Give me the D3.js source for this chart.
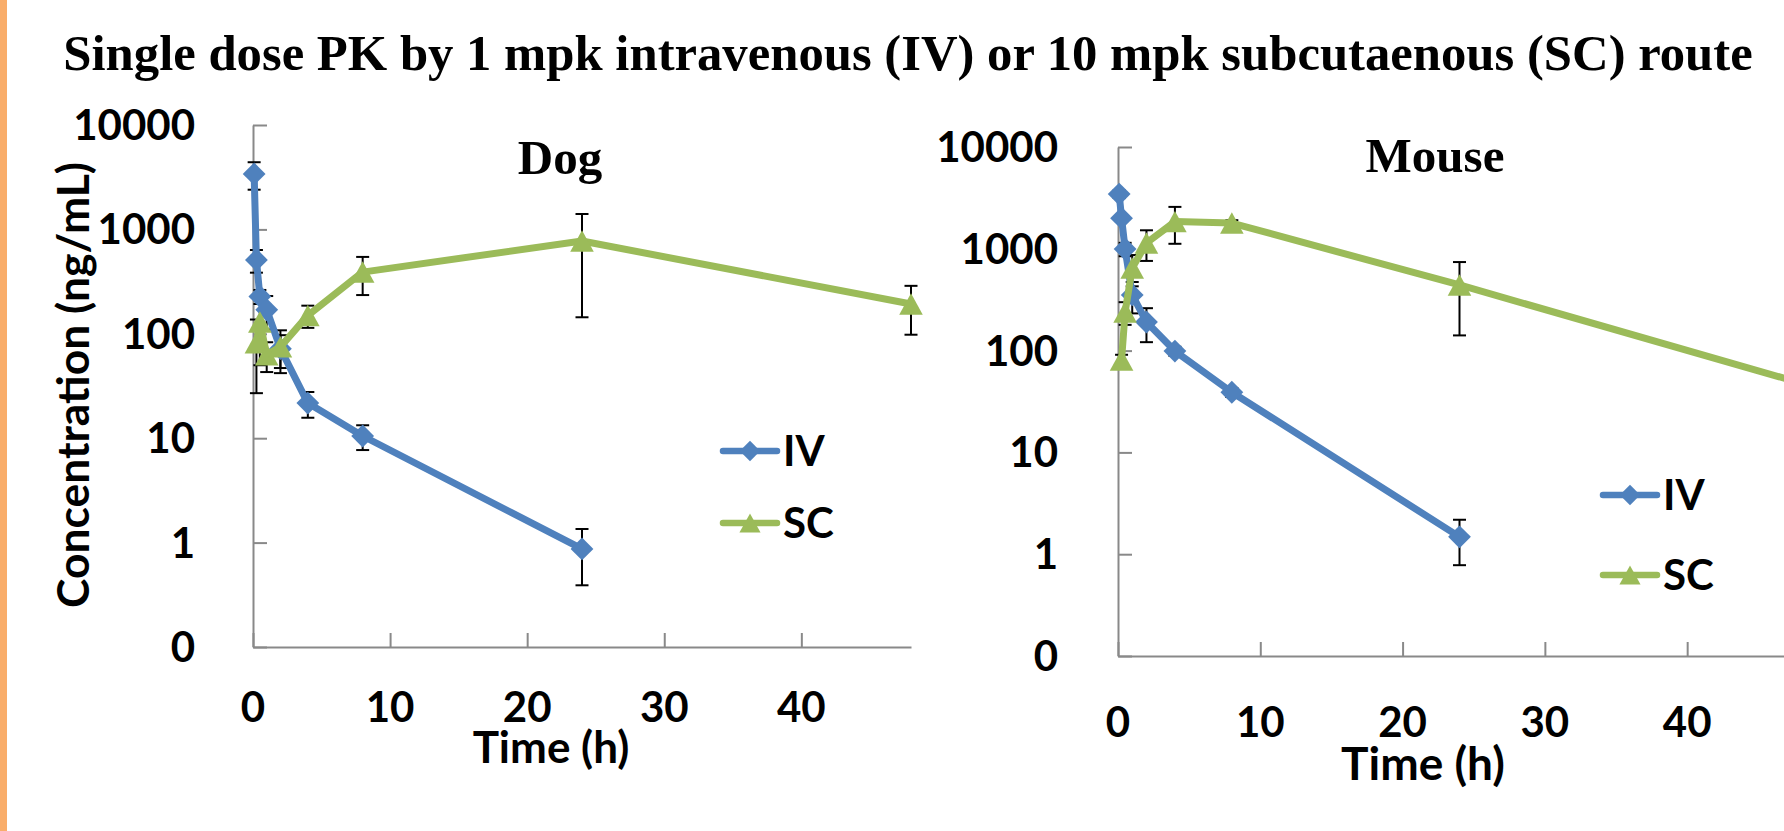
<!DOCTYPE html>
<html>
<head>
<meta charset="utf-8">
<script src="https://cdnjs.cloudflare.com/ajax/libs/d3/7.8.5/d3.min.js"></script>
<style>
  body { margin: 0; background: #fff; overflow: hidden; }
  text { font-family: Lato, "Noto Sans", sans-serif; font-weight: bold; fill: #000; }
  text.serif { font-family: "Liberation Serif", "Times New Roman", serif; }
</style>
</head>
<body>
<script>
// dog, 1 mpk IV / 10 mpk SC (mean, sd)
const dogIvTime = [0.083, 0.25, 0.5, 1, 2, 4, 8, 24]
const dogIvConc = [3400, 510, 228, 170, 72, 21.7, 10.5, 0.87]
const dogIvSd = [1000, 125, 35, 60, 25, 6, 2.8, 0.48]
const dogScTime = [0.25, 0.5, 1, 2, 4, 8, 24, 48]
const dogScConc = [82, 130, 63, 75, 150, 390, 774, 193]
const dogScSd = [55, 80, 20, 33, 36, 155, 630, 95]

// mouse
const mouseIvTime = [0.083, 0.25, 0.5, 1, 2, 4, 8, 24]
const mouseIvConc = [3450, 2000, 995, 352, 191, 99, 39, 1.48]
const mouseIvSd = [300, 150, 150, 120, 70, 10, 4, 0.7]
const mouseScTime = [0.25, 0.5, 1, 2, 4, 8, 24, 48]
const mouseScConc = [81, 239, 648, 1140, 1850, 1790, 441, 48]
const mouseScSd = [10, 60, 220, 380, 730, 120, 300, 20]

const yTicks = [0.1, 1, 10, 100, 1000, 10000]
const xTicks = [0, 10, 20, 30, 40]
const seriesNames = ['IV', 'SC']

const width = 1784
const height = 831
const ivColor = '#4F81BD'
const scColor = '#9BBB59'
const axisColor = '#898989'

let svg = d3
  .select('body')
  .append('svg')
  .attr('width', width)
  .attr('height', height)

// orange strip on the left edge
svg
  .append('rect')
  .attr('x', 0)
  .attr('y', 0)
  .attr('width', 7)
  .attr('height', height)
  .style('fill', '#F9AD6A')

svg
  .append('text')
  .attr('class', 'serif')
  .attr('x', 908)
  .attr('y', 70)
  .attr('text-anchor', 'middle')
  .style('font-size', '50.7px')
  .text('Single dose PK by 1 mpk intravenous (IV) or 10 mpk subcutaenous (SC) route')

const zip = (t, c, s) => t.map((d, i) => ({ t: d, c: c[i], sd: s[i] }))

// excel-like markers: square diamond and a triangle about as tall as wide
const diamondType = {
  draw(ctx, size) {
    let r = Math.sqrt(size) / 2
    ctx.moveTo(0, -r)
    ctx.lineTo(r, 0)
    ctx.lineTo(0, r)
    ctx.lineTo(-r, 0)
    ctx.closePath()
  }
}
const triangleType = {
  draw(ctx, size) {
    let r = Math.sqrt(size) / 2
    ctx.moveTo(0, -r)
    ctx.lineTo(r * 1.1, r)
    ctx.lineTo(-r * 1.1, r)
    ctx.closePath()
  }
}
const diamond = d3.symbol().type(diamondType)
const triangle = d3.symbol().type(triangleType)

function drawPanel(p) {
  let x = d3.scaleLinear().domain([0, 48]).range([p.left, p.right])
  let y = d3.scaleLog().domain([0.1, 10000]).range([p.bottom, p.top])
  let g = svg.append('g')

  let yAxis = d3.axisRight(y).tickValues(yTicks).tickSize(14).tickSizeOuter(0).tickFormat('')
  let xAxis = d3.axisBottom(x).tickValues(xTicks).tickSize(-14).tickSizeOuter(0).tickFormat('')

  g.append('g')
    .attr('transform', `translate(${p.left},0)`)
    .call(yAxis)
  g.append('g')
    .attr('transform', `translate(0,${p.bottom})`)
    .call(xAxis)
  g.selectAll('.domain, .tick line')
    .style('stroke', axisColor)
    .style('stroke-width', 2)

  g.selectAll('.ylab')
    .data(yTicks)
    .enter()
    .append('text')
    .attr('class', 'ylab')
    .attr('x', p.labelRight)
    .attr('y', d => y(d) + 15)
    .attr('text-anchor', 'end')
    .style('font-size', '42px')
    .text(d => d < 1 ? '0' : d3.format('d')(d))

  g.selectAll('.xlab')
    .data(xTicks)
    .enter()
    .append('text')
    .attr('class', 'xlab')
    .attr('x', d => x(d))
    .attr('y', p.xLabelY)
    .attr('text-anchor', 'middle')
    .style('font-size', '42px')
    .text(d => d)

  g.append('text')
    .attr('x', p.timeX)
    .attr('y', p.timeY)
    .attr('text-anchor', 'middle')
    .style('font-size', p.timeSize)
    .text('Time (h)')

  g.append('text')
    .attr('class', 'serif')
    .attr('x', p.titleX)
    .attr('y', p.titleY)
    .attr('text-anchor', 'middle')
    .style('font-size', '49px')
    .text(p.name)

  let series = [
    { data: p.iv, color: ivColor, shape: diamond, size: 520 },
    { data: p.sc, color: scColor, shape: triangle, size: 460 }
  ]

  // error bars under the lines
  series.forEach(s => {
    let eb = g.append('g')
      .style('stroke', '#000')
      .style('stroke-width', 2)
    s.data.forEach(d => {
      let top = y(d.c + d.sd)
      let bot = y(Math.max(d.c - d.sd, 0.1))
      eb.append('line').attr('x1', x(d.t)).attr('x2', x(d.t)).attr('y1', top).attr('y2', bot)
      eb.append('line').attr('x1', x(d.t) - 6.5).attr('x2', x(d.t) + 6.5).attr('y1', top).attr('y2', top)
      eb.append('line').attr('x1', x(d.t) - 6.5).attr('x2', x(d.t) + 6.5).attr('y1', bot).attr('y2', bot)
    })
  })

  series.forEach(s => {
    g.append('path')
      .datum(s.data)
      .attr('d', d3.line().x(d => x(d.t)).y(d => y(d.c)))
      .style('fill', 'none')
      .style('stroke', s.color)
      .style('stroke-width', 7)
      .style('stroke-linejoin', 'round')

    g.selectAll(null)
      .data(s.data)
      .enter()
      .append('path')
      .attr('d', s.shape.size(s.size))
      .attr('transform', d => `translate(${x(d.t)},${y(d.c)})`)
      .style('fill', s.color)
  })

  // legend
  series.forEach((s, i) => {
    let ly = p.legendY[i]
    g.append('line')
      .attr('x1', p.legendX)
      .attr('x2', p.legendX + 54)
      .attr('y1', ly)
      .attr('y2', ly)
      .style('stroke', s.color)
      .style('stroke-width', 6.5)
      .style('stroke-linecap', 'round')
    g.append('path')
      .attr('d', s.shape.size(s.size * 0.8))
      .attr('transform', `translate(${p.legendX + 27},${ly})`)
      .style('fill', s.color)
    g.append('text')
      .attr('x', p.legendX + 60)
      .attr('y', ly + 15)
      .style('font-size', '42px')
      .text(seriesNames[i])
  })
}

drawPanel({
  name: 'Dog',
  iv: zip(dogIvTime, dogIvConc, dogIvSd),
  sc: zip(dogScTime, dogScConc, dogScSd),
  left: 253, right: 911, top: 125, bottom: 647,
  labelRight: 195, xLabelY: 722,
  timeX: 551, timeY: 763, timeSize: '44px',
  titleX: 560, titleY: 174,
  legendX: 723, legendY: [451, 523]
})

drawPanel({
  name: 'Mouse',
  iv: zip(mouseIvTime, mouseIvConc, mouseIvSd),
  sc: zip(mouseScTime, mouseScConc, mouseScSd),
  left: 1118, right: 1801, top: 147, bottom: 656,
  labelRight: 1058, xLabelY: 737,
  timeX: 1423, timeY: 780, timeSize: '46px',
  titleX: 1435, titleY: 172,
  legendX: 1603, legendY: [495, 575]
})

// y title: sized so it spans the same ~446px (y 162..608) as the reference
let yTitle = svg
  .append('text')
  .attr('transform', 'translate(89,385) rotate(-90)')
  .attr('text-anchor', 'middle')
  .style('font-size', '46px')
  .text('Concentration (ng/mL)')
const yTitleLen = yTitle.node().getComputedTextLength()
yTitle.style('font-size', (46 * 446 / yTitleLen) + 'px')
</script>
</body>
</html>
